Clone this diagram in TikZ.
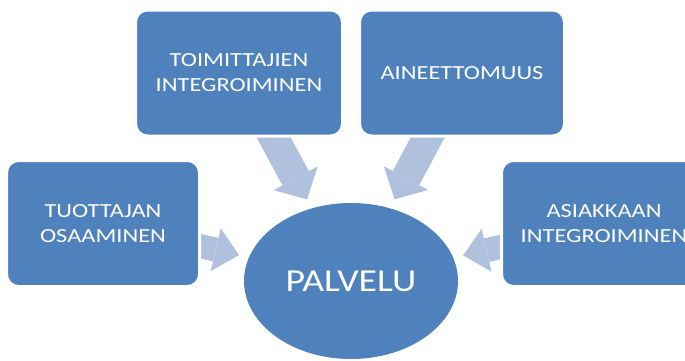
\documentclass[tikz,border=0pt]{standalone}
\usepackage{fontspec}
\setmainfont{Carlito}
\usepackage{graphicx}
\usepackage{tikz}
\usetikzlibrary{positioning}
\usetikzlibrary{shapes.geometric}
\usetikzlibrary{arrows.meta}
\usetikzlibrary{backgrounds}
\definecolor{boxblue}{HTML}{4F81BD}
\definecolor{arrowblue}{HTML}{B0C1DE}
\newcommand{\wide}[2][1.22]{\scalebox{#1}[1]{#2}}

\begin{document}
\begin{tikzpicture}[x=1pt, y=-1pt,
                          squarednode/.style={rectangle, rounded corners=12pt, draw=white, line width=3pt, fill=boxblue, text=white, minimum width=205pt, minimum height=126pt, align=center, font=\fontsize{20}{25}\selectfont},
                          roundnode/.style={ellipse, fill=boxblue, text=white, minimum width=214pt, minimum height=156pt, font=\fontsize{32}{38}\selectfont},
                          blockarrow/.style={draw=arrowblue, line width=24pt, shorten <=-12pt, shorten >=10pt, -{Triangle[width=44pt, length=24pt, line width=0pt]}},
                          widearrow/.style={blockarrow, line width=30pt, -{Triangle[width=50pt, length=24pt, line width=0pt]}},
                      ]
                      \clip (0,0) rectangle (685,360);
                      %Nodes
                      \node[roundnode]                              (palvelu)      at (351,281)   {\wide[1.18]{PALVELU}};
                      \node[squarednode, minimum width=193pt]       (tuottajan)    at (103,223.5) {\wide{TUOTTAJAN}\\\wide{OSAAMINEN}};
                      \node[squarednode, minimum width=207pt]       (toimittajien) at (239,73)    {\wide{TOIMITTAJIEN}\\\wide{INTEGROIMINEN}};
                      \node[squarednode]                            (aineettomuus) at (462,73)    {\wide{AINEETTOMUUS}};
                      \node[squarednode]                            (asiakkaan)    at (604,223.5) {\wide{ASIAKKAAN}\\\wide{INTEGROIMINEN}};

                      %Lines
                      \begin{scope}[on background layer]
                      \draw[blockarrow] (tuottajan) -- (palvelu);
                      \draw[widearrow] (toimittajien) -- (palvelu);
                      \draw[widearrow] (aineettomuus) -- (palvelu);
                      \draw[blockarrow] (asiakkaan) -- (palvelu);
                      \end{scope}
                  \end{tikzpicture}
\end{document}
